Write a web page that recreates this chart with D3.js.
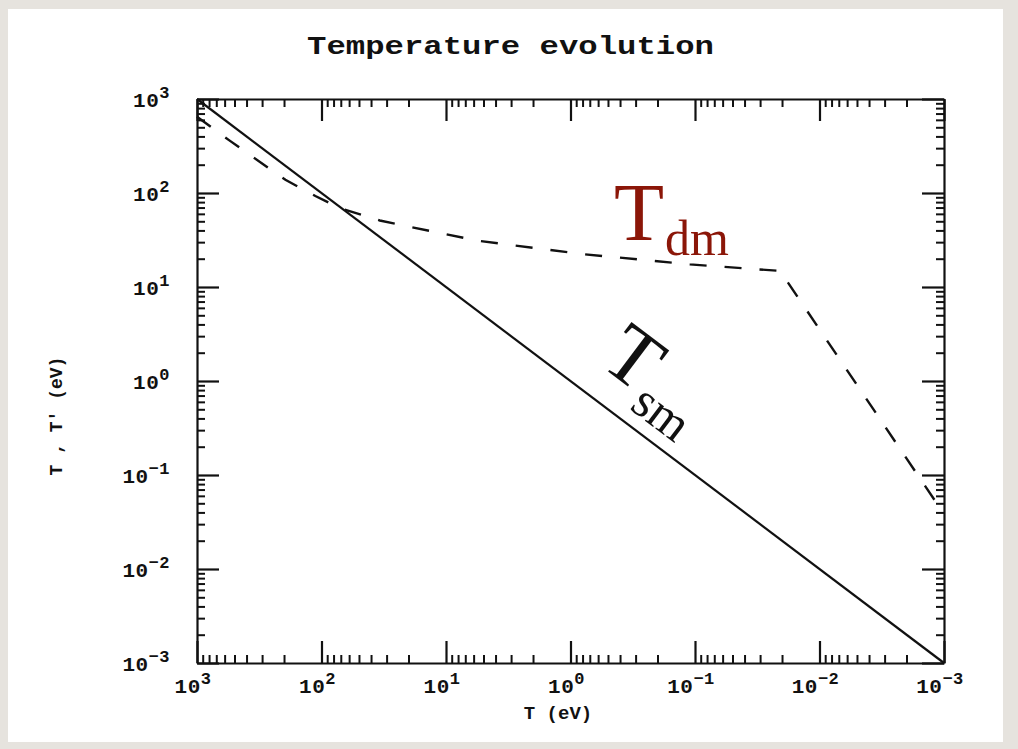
<!DOCTYPE html>
<html>
<head>
<meta charset="utf-8">
<script src="https://cdn.jsdelivr.net/npm/d3@7"></script>
<style>
  html, body { margin: 0; padding: 0; background: #e6e3de; }
  svg { display: block; }
  .mono { font-family: "Liberation Mono", "DejaVu Sans Mono", monospace; font-weight: bold; fill: #111; }
  .serif { font-family: "Liberation Serif", "DejaVu Serif", serif; }
</style>
</head>
<body>
<svg id="chart" width="1018" height="749"></svg>
<script>
// Standard-model temperature T (eV), both curves sampled on it
const smT = [1000, 0.001];
const smTp = [1000, 0.001];

// Dark-sector temperature T' (eV) against T (eV)
const dmT  = [1000, 550, 195, 112, 71, 34, 20, 5.5, 0.8, 0.11, 0.0204, 0.0178, 0.00112];
const dmTp = [646, 363, 138, 93, 69, 51, 44, 31, 22.4, 17.4, 14.8, 11, 0.048];

// Decade ticks and their exponent labels
const decades = [1000, 100, 10, 1, 0.1, 0.01, 0.001];
const exponents = ["3", "2", "1", "0", "\u22121", "\u22122", "\u22123"];

const svg = d3.select("#chart");
const W = 1018, H = 749;

// page backdrop and white card
svg.append("rect").attr("width", W).attr("height", H).attr("fill", "#e6e3de");
svg.append("rect").attr("x", 8).attr("y", 9).attr("width", 995).attr("height", 733).attr("fill", "#ffffff");

const plotLeft = 197, plotRight = 944, plotTop = 99, plotBottom = 663;

const x = d3.scaleLog().domain([1000, 0.001]).range([plotLeft, plotRight]);
const y = d3.scaleLog().domain([0.001, 1000]).range([plotBottom, plotTop]);

// minor ticks: 2..9 times each decade
const minor = [];
for (let e = -3; e < 3; e++) {
  for (let m = 2; m <= 9; m++) minor.push(m * Math.pow(10, e));
}

function drawAxis(axisFn, scale, transform, majorLen, minorLen) {
  const g = svg.append("g").attr("transform", transform);
  g.call(axisFn(scale).tickValues(decades).tickSizeInner(-majorLen).tickSizeOuter(0).tickFormat(""));
  g.selectAll("path.domain").attr("stroke", "#111").attr("stroke-width", 2.2);
  g.selectAll(".tick line").attr("stroke", "#111").attr("stroke-width", 2.2);
  const gm = svg.append("g").attr("transform", transform);
  gm.call(axisFn(scale).tickValues(minor).tickSizeInner(-minorLen).tickSizeOuter(0).tickFormat(""));
  gm.select("path.domain").remove();
  gm.selectAll(".tick line").attr("stroke", "#111").attr("stroke-width", 2);
}

drawAxis(d3.axisBottom, x, `translate(0,${plotBottom})`, 22, 8);
drawAxis(d3.axisTop, x, `translate(0,${plotTop})`, 22, 8);
drawAxis(d3.axisLeft, y, `translate(${plotLeft},0)`, 22, 8);
drawAxis(d3.axisRight, y, `translate(${plotRight},0)`, 22, 8);

// tick labels (10 with superscript exponent)
function powerLabel(sel, exp) {
  sel.append("tspan").text("10");
  sel.append("tspan").attr("dy", -9).style("font-size", "17px").text(exp);
}

const xl = svg.append("g");
decades.forEach((d, i) => {
  const t = xl.append("text").attr("class", "mono")
    .attr("x", x(d) - 4).attr("y", plotBottom + 30)
    .attr("text-anchor", "middle").style("font-size", "21px")
    .style("letter-spacing", "0.5px");
  powerLabel(t, exponents[i]);
});

const yl = svg.append("g");
decades.forEach((d, i) => {
  const t = yl.append("text").attr("class", "mono")
    .attr("x", 170).attr("y", y(d) + 8)
    .attr("text-anchor", "end").style("font-size", "21px")
    .style("letter-spacing", "0.5px");
  powerLabel(t, exponents[i]);
});

// axis titles
svg.append("text").attr("class", "mono")
  .attr("x", 558).attr("y", 719).attr("text-anchor", "middle")
  .style("font-size", "19px").text("T (eV)");

svg.append("text").attr("class", "mono")
  .attr("transform", "translate(62,416) rotate(-90)")
  .attr("text-anchor", "middle").style("font-size", "18px")
  .text("T , T\u2032 (eV)");

// title
svg.append("text").attr("class", "mono")
  .attr("x", 307).attr("y", 54)
  .attr("textLength", 407).attr("lengthAdjust", "spacingAndGlyphs")
  .style("font-size", "25px").style("font-weight", "bold")
  .text("Temperature evolution");

// curves
const line = d3.line().x(d => x(d[0])).y(d => y(d[1]));

svg.append("path")
  .datum(smT.map((t, i) => [t, smTp[i]]))
  .attr("d", line).attr("fill", "none")
  .attr("stroke", "#111").attr("stroke-width", 2.2);

svg.append("path")
  .datum(dmT.map((t, i) => [t, dmTp[i]]))
  .attr("d", line).attr("fill", "none")
  .attr("stroke", "#111").attr("stroke-width", 2.4)
  .attr("stroke-dasharray", "17 18");

// curve annotations
const dm = svg.append("text").attr("class", "serif")
  .attr("transform", "translate(614,240)")
  .style("fill", "#8b1608");
dm.append("tspan").style("font-size", "82px").text("T");
dm.append("tspan").attr("dy", 15).attr("dx", 1).style("font-size", "50px").text("dm");

const sm = svg.append("text").attr("class", "serif")
  .attr("transform", "translate(598,364) rotate(37)")
  .style("fill", "#111");
sm.append("tspan").style("font-size", "82px").text("T");
sm.append("tspan").attr("dy", 17).attr("dx", 1).style("font-size", "50px").text("sm");
</script>
</body>
</html>
